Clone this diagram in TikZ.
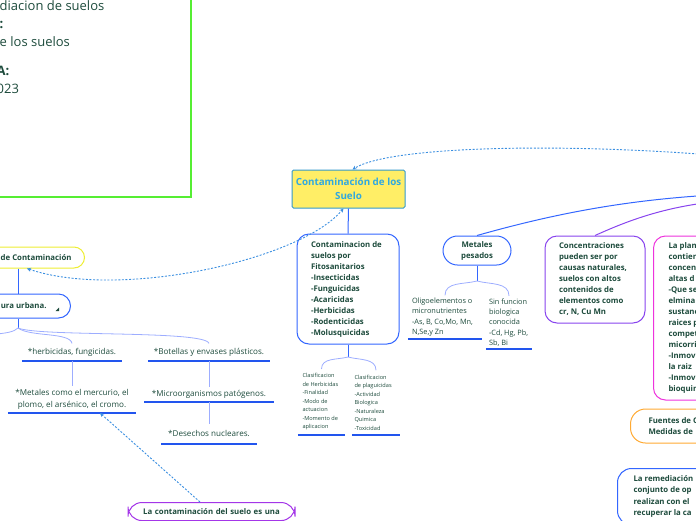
\documentclass[tikz,border=0pt]{standalone}
\usepackage{fontspec}
\setmainfont{Open Sans}
\usetikzlibrary{arrows.meta}
\definecolor{txt}{HTML}{1D4B3C}
\definecolor{mainblue}{HTML}{3366FF}
\definecolor{ulblue}{HTML}{2255EE}
\definecolor{brblue}{HTML}{9DADFF}
\definecolor{dotblue}{HTML}{3B8FE0}
\definecolor{purp}{HTML}{8844EE}
\definecolor{violet2}{HTML}{A436E8}
\definecolor{pinkc}{HTML}{EE33DD}
\definecolor{orangec}{HTML}{FFAA33}
\definecolor{yellowb}{HTML}{EEEE33}
\definecolor{titlefill}{HTML}{FFEE66}
\definecolor{titledraw}{HTML}{3399CC}
\definecolor{titletext}{HTML}{2FA8E0}
\definecolor{greenc}{HTML}{55EE33}
\newcommand\boldnodefont{\fontsize{7.8}{11}\selectfont\bfseries}
\newcommand\itemfont{\fontsize{8.1}{12}\selectfont}
\newcommand\smallfont{\fontsize{5.6}{8.5}\selectfont}
\newcommand\midfont{\fontsize{7.35}{10.3}\selectfont}
\newcommand\infofont{\fontsize{13}{18.2}\selectfont}
\begin{document}
\begin{tikzpicture}[x=1pt,y=-1pt,
  box/.style={draw, rounded corners=12pt, line width=1pt, fill=white, text=txt, align=flush left, font=\boldnodefont},
  item/.style={text=txt, font=\itemfont, align=center, inner xsep=0pt, inner ysep=4.5pt, text depth=2pt, anchor=south},
  small/.style={text=txt, font=\smallfont, align=flush left, inner ysep=4.5pt, anchor=south},
  mid/.style={text=txt, font=\midfont, align=flush left, inner ysep=2.5pt, anchor=south},
  uline/.style={draw=ulblue, line width=1.5pt},
  mainline/.style={draw=mainblue, line width=1pt},
  branch/.style={draw=brblue, line width=0.8pt},
  dotarrow/.style={draw=dotblue, line width=0.9pt, dash pattern=on 2pt off 1.6pt}]
\useasboundingbox (0,0) rectangle (696,520);
% info frame
\draw[draw=greenc, line width=1.4pt] (-5,-5) rectangle (191,197);
\node[anchor=north west, align=flush left, font=\infofont, text=txt, inner sep=0pt] (info) at (-0.5,0)
  {diacion de suelos\\\textbf{:}\\e los suelos\\[11pt]\hspace*{-3pt}\textbf{A:}\\\hspace*{-3pt}023};
% left nodes
\coordinate (x18) at (18,0);
\coordinate (x27) at (27,0);
\coordinate (x100) at (100,0);
\coordinate (x200) at (200,0);
\node[box, draw=yellowb, anchor=east, inner xsep=13pt, minimum height=21pt, rounded corners=10.5pt] (contam) at (85,257.5) {\hspace*{20pt}de Contaminación};
\node[box, draw=mainblue, anchor=east, inner xsep=13pt, minimum height=24pt] (urb) at (71,306) {\hspace*{30pt}ura urbana.\hspace*{11pt}};
\fill[txt] (55.5,311) -- (59,311) -- (59,307.5) -- cycle;
\coordinate (urbb) at (18,328);
\coordinate (lft) at (-3,334);
\node[item, minimum width=100pt] (herb) at (72,361) {*herbicidas, fungicidas.};
\node[item, minimum width=128pt, inner ysep=3pt] (metal) at (72,413) {*Metales como el mercurio, el\\plomo, el arsénico, el cromo.};
\node[item, minimum width=122pt] (bot) at (209,361) {*Botellas y envases plásticos.};
\node[item, minimum width=129pt, inner ysep=3pt] (micro) at (209,402) {*Microorganismos patógenos.};
\node[item, minimum width=95pt, inner ysep=5.5pt] (desech) at (209,444) {*Desechos nucleares.};
\foreach \n in {herb,metal,bot,micro,desech} \draw[uline] (\n.south west) -- (\n.south east);
\draw[mainline] (contam.south -| x18) -- (urb.north -| x18);
\draw[mainline] (urb.south -| x18) -- (urbb);
\draw[branch] (urbb) .. controls (14,332) and (6,333) .. (lft);
\draw[branch] (urbb) .. controls (30,337) and (70,332) .. (herb.north);
\draw[branch] (urbb) .. controls (40,337) and (205,330) .. (bot.north);
\draw[branch] (herb.south) -- (metal.north);
\draw[branch] (bot.south) -- (micro.north);
\draw[branch] (micro.south) -- (desech.north);
% bottom node
\node[box, draw=violet2, anchor=north, text width=140pt, align=center, inner xsep=13.5pt, inner ysep=6pt, rounded corners=14pt, font=\fontsize{7.8}{11}\selectfont\bfseries] (bottom) at (211.5,502) {La contaminación del suelo es una};
% title
\node[draw=titledraw, fill=titlefill, line width=1pt, rounded corners=1.5pt, minimum width=113pt, minimum height=38pt, align=center, text=titletext, font=\fontsize{9.8}{14}\selectfont\bfseries, inner sep=0pt] (title) at (348.5,189) {Contaminación de los\\Suelo};
% fitosanitarios
\node[box, draw=mainblue, text width=74pt, inner xsep=14pt, minimum height=110pt] (fito) at (348,289) {Contaminacion de\\suelos por\\Fitosanitarios\\-Insecticidas\\-Funguicidas\\-Acaricidas\\-Herbicidas\\-Rodenticidas\\-Molusquicidas};
\coordinate (fitob) at (348,357);
\node[small, text width=38pt, inner xsep=4.5pt] (clasH) at (321.5,435) {Clasificacion\\de Herbicidas\\-Finalidad\\-Modo de\\actuacion\\-Momento de\\aplicacion};
\node[small, text width=43pt, inner xsep=2.5pt] (clasP) at (376,435) {Clasificacion\\de plaguicidas\\-Actividad\\Biologica\\-Naturaleza\\Quimica\\-Toxicidad};
\draw[uline] (clasH.south west) -- (clasH.south east);
\draw[uline] (clasP.south west) -- (clasP.south east);
\draw[mainline] (title.south) -- (fito.north);
\draw[mainline] (fito.south) -- (fitob);
\draw[branch] (fitob) to[out=195,in=90] (clasH.north);
\draw[branch] (fitob) to[out=-15,in=90] (clasP.north);
% metales
\node[box, draw=mainblue, align=center, minimum width=68pt, minimum height=29pt, rounded corners=14.5pt, inner sep=2pt] (metales) at (477,250.5) {Metales\\pesados};
\coordinate (metb) at (477,281);
\node[mid, text width=66pt, inner xsep=4pt] (oligo) at (445,339) {Oligoelementos o\\micronutrientes\\-As, B, Co,Mo, Mn,\\N,Se,y Zn};
\node[mid, text width=40pt, inner xsep=3pt] (sinf) at (509,349) {Sin funcion\\biologica\\conocida\\-Cd, Hg, Pb,\\Sb, Bi};
\draw[uline] (oligo.south west) -- (oligo.south east);
\draw[uline] (sinf.south west) -- (sinf.south east);
\draw[mainline] (metales.south) -- (metb);
\draw[branch] (metb) to[out=195,in=90] (oligo.north);
\draw[branch] (metb) to[out=-15,in=90] (sinf.north);
% right side nodes
\node[box, draw=purp, text width=72pt, inner xsep=14pt, minimum height=87pt] (conc) at (595,279.5) {Concentraciones\\pueden ser por\\causas naturales,\\suelos con altos\\contenidos de\\elementos como\\cr, N, Cu Mn};
\node[box, draw=pinkc, anchor=west, text width=80pt, inner xsep=15pt, minimum height=164pt] (planta) at (653,318) {La plan\\contien\\concen\\altas d\\-Que se\\elmina\\sustanc\\raices p\\compet\\micorri\\-Inmov\\la raiz\\-Inmov\\bioquim};
\node[box, draw=orangec, anchor=west, text width=70pt, inner xsep=18pt, minimum height=34pt, rounded corners=15pt] (fuentes) at (630,426) {Fuentes de C\\Medidas de};
\node[box, draw=mainblue, anchor=north west, text width=80pt, inner xsep=16pt, inner ysep=7pt, rounded corners=14pt, font=\fontsize{7.8}{11.5}\selectfont\bfseries] (remed) at (617,468) {La remediación\\conjunto de op\\realizan con el\\recuperar la ca};
% links to the (off-picture) root
\coordinate (rootA) at (712,195);
\coordinate (rootB) at (712,202);
\coordinate (rootC) at (712,155);
\draw[mainline] (metales.north) .. controls (560,212) and (630,200) .. (rootA);
\draw[draw=purp, line width=1pt] (conc.north) .. controls (625,222) and (660,208) .. (rootB);
% dotted relations
\draw[dotarrow, -{Stealth[length=4pt,width=4pt]}] (rootC) .. controls (560,143) and (390,146) .. ([xshift=4pt]title.north);
\draw[dotarrow, {Stealth[length=4pt,width=4pt]}-{Stealth[length=4pt,width=4pt]}] (contam.south -| x27) .. controls (120,300) and (300,260) .. ([xshift=-5pt]title.south);
\draw[dotarrow, -{Stealth[length=4pt,width=4pt]}] (bottom.north -| x200) -- (metal.south -| x100);
\end{tikzpicture}
\end{document}
